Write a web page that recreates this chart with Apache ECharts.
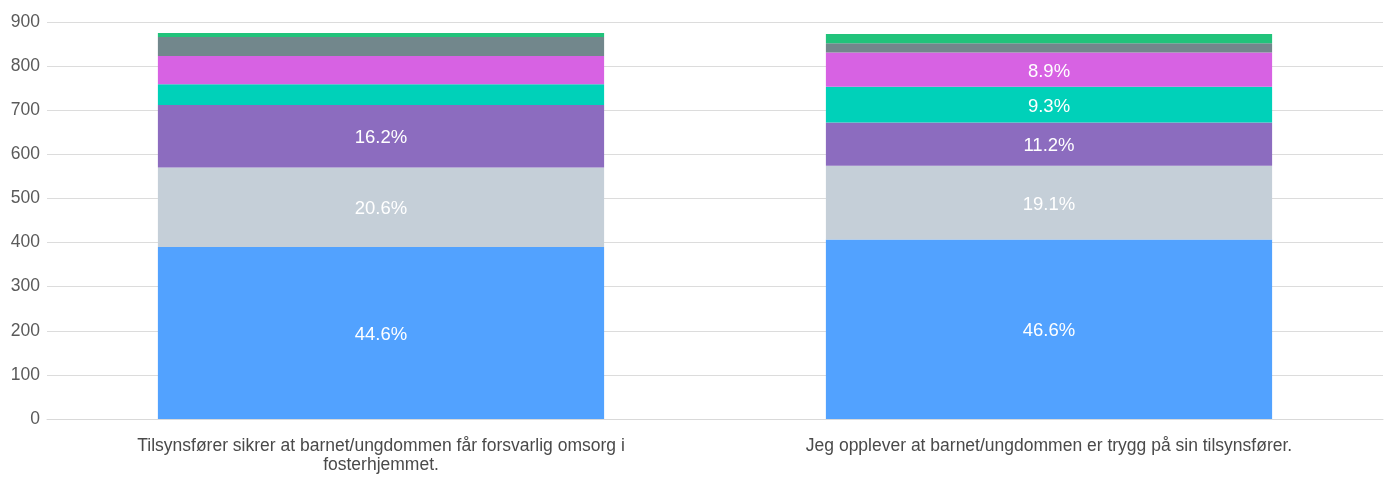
<!DOCTYPE html>
<html><head><meta charset="utf-8">
<script src="https://cdn.jsdelivr.net/npm/echarts@6/dist/echarts.min.js"></script>
<style>html,body{margin:0;padding:0;background:#fff}#c{width:1391px;height:483px}</style>
</head><body><div id="c"></div>
<script>
const categories = [
  "Tilsynsfører sikrer at barnet/ungdommen får forsvarlig omsorg i\nfosterhjemmet.",
  "Jeg opplever at barnet/ungdommen er trygg på sin tilsynsfører."
];
const s1 = [390, 407];
const s2 = [180, 167];
const s3 = [142, 98];
const s4 = [47, 81];
const s5 = [64, 78];
const s6 = [43, 21];
const s7 = [9, 21];
const seriesData = [s1, s2, s3, s4, s5, s6, s7];
const colors = ["#52a2ff", "#c5cfd8", "#8c6cbf", "#00d1b9", "#d762e3", "#72878c", "#21c37b"];
const yTicks = { min: 0, max: 900, interval: 100 };

const totals = categories.map((_, i) => seriesData.reduce((a, s) => a + s[i], 0));
const FONT = 'Liberation Sans, Arial, sans-serif';

const chart = echarts.init(document.getElementById('c'), null, { renderer: 'canvas' });
chart.setOption({
  animation: false,
  grid: { left: 47, right: 8, top: 22, bottom: 64 },
  xAxis: {
    type: 'category', data: categories,
    axisLine: { show: true, lineStyle: { color: '#d9d9d9' } },
    axisTick: { show: false },
    axisLabel: { color: '#4a4a4a', fontSize: 17.5, fontFamily: FONT, lineHeight: 19, margin: 18, interval: 0 }
  },
  yAxis: {
    type: 'value', min: yTicks.min, max: yTicks.max, interval: yTicks.interval,
    axisLine: { show: false }, axisTick: { show: false },
    splitLine: { lineStyle: { color: '#dcdcdc' } },
    axisLabel: { color: '#5a5a5a', fontSize: 17.5, fontFamily: FONT, margin: 7 }
  },
  series: seriesData.map((d, k) => ({
    type: 'bar', stack: 'a', data: d, barWidth: '66.8%',
    itemStyle: { color: colors[k] },
    label: {
      show: true, position: 'inside', color: '#fff', fontSize: 18.5, offset: [0, 2],
      fontFamily: FONT,
      formatter: p => {
        const pct = p.value / totals[p.dataIndex] * 100;
        return pct >= 8 ? pct.toFixed(1) + '%' : '';
      }
    }
  }))
});
</script></body></html>
